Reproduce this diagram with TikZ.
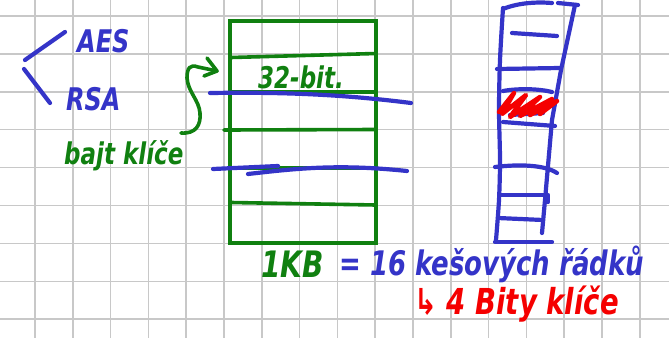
\documentclass[tikz,border=0pt]{standalone}
\usepackage{graphicx}
\usepackage{fontspec}
\setmainfont{DejaVu Sans}
\definecolor{penblue}{RGB}{52,52,200}
\definecolor{pengreen}{RGB}{16,128,16}
\definecolor{penred}{RGB}{245,0,0}
\definecolor{gridgray}{RGB}{200,200,200}
\newcommand{\tallify}[1]{\scalebox{1}[1.3]{#1}}
\tikzset{
  gridline/.style={draw=gridgray,line width=1.5},
  bluepen/.style={draw=penblue,line width=4.2,line cap=round,line join=round},
  greenpen/.style={draw=pengreen,line width=3.6,line cap=round,line join=round},
  redpen/.style={draw=penred,line width=4.5,line cap=round,line join=round},
  hand/.style={inner sep=0pt,anchor=base west,font=\fontsize{24}{28}\selectfont\bfseries\itshape},
}
\begin{document}
\begin{tikzpicture}[x=1pt,y=-1pt]
\useasboundingbox (0,0) rectangle (669,338);
\fill[white] (0,0) rectangle (669,338);
% grid
\foreach \k in {0,...,16} \draw[gridline] ({35+37.8*\k},0) -- ({35+37.8*\k},338);
\foreach \k in {0,...,8} \draw[gridline] (0,{16+37.9*\k}) -- (669,{16+37.9*\k});

% left bracket and labels
\draw[bluepen] (65,32) -- (25,60);
\draw[bluepen] (24,69) -- (50,103);
\node[hand,text=penblue] (aes) at (77,52) {\tallify{AES}};
\node[hand,text=penblue] (rsa) at (66,110) {\tallify{RSA}};
\node[hand,text=pengreen,font=\fontsize{23}{26}\selectfont\bfseries\itshape] (bajt) at (64,164) {\tallify{bajt klíče}};

% brace arrow
\coordinate (bstart) at (181,133);
\coordinate (btip) at (217,71);
\draw[greenpen] (bstart) .. controls (196,134) and (201,125) .. (200,113)
  .. controls (199,100) and (188,92) .. (187,78)
  .. controls (187,68) and (190,64) .. (198,67) -- (btip);
\draw[greenpen] (207,58) -- (btip) -- (204,76);

% green table
\draw[greenpen,line join=miter,line cap=butt] (230,21) rectangle (376,243);
\draw[greenpen] (231,57.5) -- (376,53.5);
\draw[greenpen] (231,92) -- (376,92);
\draw[greenpen] (224,130) -- (376,129.5);
\draw[greenpen] (231,168) -- (376,168);
\draw[greenpen] (231,202.5) -- (376,205);
\node[hand,text=pengreen,font=\fontsize{23}{26}\selectfont\bfseries\itshape] (bit) at (258,88) {\tallify{32-bit.}};

% blue strokes over table
\draw[bluepen] (210,93) .. controls (280,92) and (340,94) .. (411,103);
\draw[bluepen] (213,169) -- (278,166);
\draw[bluepen] (248,174) .. controls (300,168) and (340,164) .. (407,171);

% right ladder
\draw[bluepen] plot[smooth] coordinates {(503,8) (500,60) (499,110) (500,160) (499,200) (496,240)};
\draw[bluepen] (575,5) -- (561,70) -- (552,120) -- (545,200) -- (542,233);
\draw[bluepen] (503,9) .. controls (520,2) and (540,2) .. (552,3);
\draw[bluepen] (558,3) -- (578,5);
\draw[bluepen] (512,33) -- (557,36);
\draw[bluepen] (497,69) -- (560,68);
\draw[bluepen] (503,91) .. controls (520,88) and (540,89) .. (552,92);
\draw[bluepen] (510,115) -- (543,113);
\draw[bluepen] (503,122) -- (555,126);
\draw[bluepen] (495,167) .. controls (520,164) and (545,165) .. (557,173);
\draw[bluepen] (500,195) -- (548,195) -- (548,202);
\draw[bluepen] (498,218) -- (543,220);
\draw[bluepen] (495,242) -- (552,242);
% red scribble
\draw[redpen] (499,112) -- (514,93) -- (502,114) -- (526,95) -- (510,117) -- (540,97)
  -- (520,116) -- (552,99) -- (530,115) -- (557,101) -- (540,114);

% bottom texts
\node[hand,text=pengreen,font=\fontsize{28}{32}\selectfont\bfseries\itshape] (kb) at (261,277) {\tallify{1KB}};
\node[hand,text=penblue,font=\fontsize{26}{30}\selectfont\bfseries\itshape] (radky) at (339,275) {\tallify{= 16 kešových řádků}};
\node[hand,text=penred,font=\fontsize{27.5}{31}\selectfont\bfseries\itshape] (bity) at (414,314) {\tallify{↳ 4 Bity klíče}};
\end{tikzpicture}
\end{document}
